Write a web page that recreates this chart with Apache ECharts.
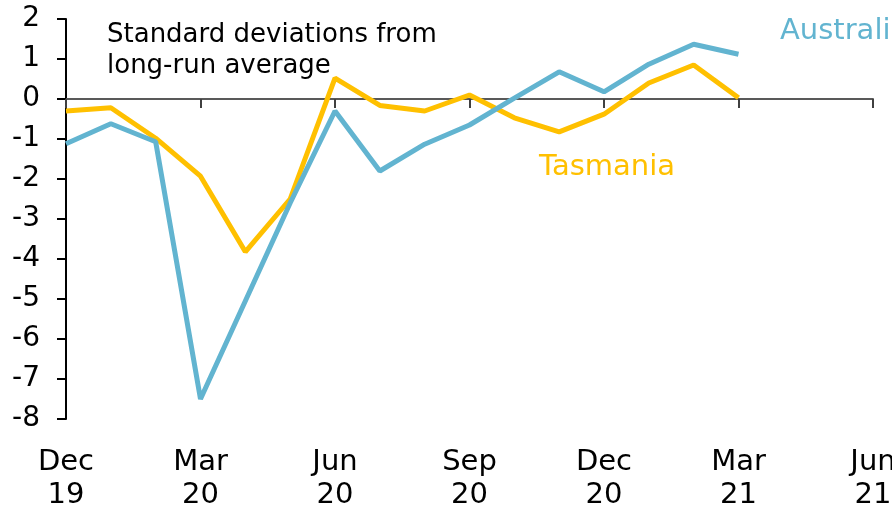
<!DOCTYPE html>
<html>
<head>
<meta charset="utf-8">
<script src="https://cdn.jsdelivr.net/npm/echarts@6/dist/echarts.min.js"></script>
<style>
  html, body { margin: 0; padding: 0; background: #fff; }
  #chart { width: 892px; height: 508px; }
</style>
</head>
<body>
<div id="chart"></div>
<script>
// months from Dec 19 to Jun 21
const months = ['Dec\n19', 'Jan\n20', 'Feb\n20', 'Mar\n20', 'Apr\n20', 'May\n20', 'Jun\n20',
  'Jul\n20', 'Aug\n20', 'Sep\n20', 'Oct\n20', 'Nov\n20', 'Dec\n20', 'Jan\n21', 'Feb\n21',
  'Mar\n21', 'Apr\n21', 'May\n21', 'Jun\n21']

// standard deviations from long-run average
const australia = [-1.12, -0.62, -1.07, -7.5, -5.05, -2.6, -0.3, -1.8, -1.13, -0.65, 0.02,
  0.68, 0.18, 0.87, 1.37, 1.12]
const tasmania = [-0.3, -0.22, -0.98, -1.93, -3.82, -2.5, 0.52, -0.16, -0.3, 0.1, -0.47,
  -0.82, -0.38, 0.4, 0.85, 0.03]

const font = 'DejaVu Sans'
const blue = '#62b4d0'
const gold = '#ffc000'

const chart = echarts.init(document.getElementById('chart'))

chart.setOption({
  animation: false,
  textStyle: { fontFamily: font },
  // let the last label run off the edge like the original
  grid: { left: 66, right: 19, top: 19, bottom: 89, outerBoundsMode: 'none' },
  xAxis: [
    {
      // line at zero
      type: 'category',
      data: months,
      boundaryGap: false,
      axisLine: { onZero: true, lineStyle: { color: '#595959', width: 2 } },
      axisTick: { interval: 2, length: 9, lineStyle: { color: '#404040', width: 2 } },
      axisLabel: { show: false }
    },
    {
      // labels at the bottom
      type: 'category',
      data: months,
      boundaryGap: false,
      position: 'bottom',
      axisLine: { show: false, onZero: false },
      axisTick: { show: false },
      axisLabel: {
        interval: 2,
        margin: 27,
        color: '#000',
        fontSize: 29,
        lineHeight: 33,
        fontFamily: font
      }
    }
  ],
  yAxis: {
    type: 'value',
    min: -8,
    max: 2,
    interval: 1,
    splitLine: { show: false },
    axisLine: { show: true, lineStyle: { color: '#000', width: 2 } },
    axisTick: { show: true, length: 9, lineStyle: { color: '#000', width: 2 } },
    axisLabel: { color: '#000', fontSize: 28, margin: 26, fontFamily: font }
  },
  series: [
    {
      name: 'Australia',
      type: 'line',
      data: australia,
      symbol: 'none',
      lineStyle: { color: blue, width: 5 },
      z: 3
    },
    {
      name: 'Tasmania',
      type: 'line',
      data: tasmania,
      symbol: 'none',
      lineStyle: { color: gold, width: 5 },
      z: 2
    }
  ],
  graphic: [
    {
      type: 'text',
      left: 107,
      top: 20,
      style: {
        text: 'Standard deviations from\nlong-run average',
        font: '26px "' + font + '"',
        lineHeight: 31,
        fill: '#000'
      }
    },
    {
      type: 'text',
      left: 780,
      top: 17,
      style: { text: 'Australia', font: '29px "' + font + '"', fill: blue }
    },
    {
      type: 'text',
      left: 539,
      top: 153,
      style: { text: 'Tasmania', font: '29px "' + font + '"', fill: gold }
    }
  ]
})
</script>
</body>
</html>
